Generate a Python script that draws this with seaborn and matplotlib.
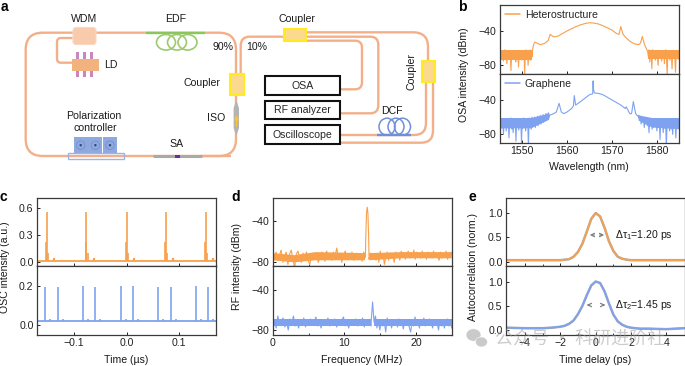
import numpy as np
import pandas as pd
import matplotlib
matplotlib.use("Agg")
import matplotlib.pyplot as plt
from matplotlib.patches import Rectangle, FancyBboxPatch, Ellipse, Circle, PathPatch, Polygon
from matplotlib.path import Path
import seaborn as sns

W, H = 685, 366
ORANGE, BLUE, GREY = "#F8A04C", "#7FA2F0", "#A8A8A8"
FIBRE = "#F3B088"

# ---------------- data ----------------
b_top_left = [-66,-72,-63,-70,-64,-75,-66,-62,-72,-65,-78,-64,-69,-63,-73,-66,-86,-65,-70,-63,-71,-64,-68,-76,-63,-70,-65,-82,-63,-72,-66,-64,-74,-65,-70,-63,-90,-66,-62,-72,-64,-80,-63,-68,-62,-74,-63,-70]
b_top_right = [-64,-70,-62,-76,-63,-68,-84,-62,-72,-65,-63,-74,-66,-64,-70,-80,-65,-63,-72,-66,-75,-64,-69,-63,-78,-66,-62,-71,-90,-65,-70,-63,-74,-66,-64,-84,-65,-72,-63,-70,-88,-64,-68,-63,-73,-66]
b_top_core_x = [1552.2,1552.5,1552.8,1553.2,1554,1555,1555.8,1556.2,1556.7,1557.2,1558,1559,1560,1561,1562,1563,1564,1565,1566,1567,1568,1569,1570,1571,1571.6,1572,1572.5,1573,1574,1575,1576,1576.4,1576.8,1577.3,1578]
b_top_core_y = [-64,-56,-53,-54,-56,-54.5,-51,-44,-46,-47,-46,-43,-40,-37.5,-35,-33,-31.5,-30.5,-31,-32,-34,-36.5,-39,-43,-44,-35,-44,-47,-52,-55,-56,-54,-46.5,-56,-64]
b_bot_left = [-66,-74,-62,-72,-64,-80,-63,-70,-65,-76,-62,-71,-68,-84,-63,-72,-61,-74,-66,-78,-63,-70,-62,-88,-64,-72,-62,-75,-66,-70,-62,-90,-64,-73,-61,-70,-65,-76,-62,-72,-64,-95,-61,-70,-63,-74,-60,-71,-63,-68,-60,-72,-62,-68,-59,-70,-61,-66,-58,-68,-60,-65,-57,-66,-58,-63,-56,-64,-56,-62,-55,-60]
b_bot_right = [-58,-64,-59,-68,-60,-66,-61,-72,-62,-68,-63,-70,-62,-78,-63,-70,-62,-74,-64,-72,-62,-70,-65,-76,-62,-72,-64,-86,-62,-70,-66,-78,-62,-73,-64,-95,-62,-72,-65,-76,-63,-74,-62,-80,-65,-72,-62,-84,-64,-70,-63,-74]
b_bot_core_x = [1556,1557,1557.6,1558.2,1558.7,1559.2,1560,1561,1561.4,1561.6,1561.9,1563,1564,1565,1565.7,1565.8,1565.9,1566.1,1567,1568,1569,1570,1571,1572,1573,1573.2,1574,1574.4,1574.8,1575.3,1576]
b_bot_core_y = [-58,-56,-54,-44,-54,-56,-54,-50,-47,-35,-46,-42,-38,-34,-33,-18,-28,-32,-32.5,-34,-37,-40,-43,-46,-50,-48,-56,-56,-42,-56,-60]
# solid part of the noise bands
b_top_band_x = [1545, 1552.2, None, 1578, 1585]
b_top_band_hi = [-62, -62, None, -62, -62]
b_top_band_lo = [-74, -74, None, -73, -73]
b_bot_band_x = [1545, 1552, 1556, None, 1576, 1579, 1585]
b_bot_band_hi = [-61, -61, -56, None, -58, -61, -61]
b_bot_band_lo = [-73, -73, -63, None, -64, -72, -74]

c_top_times = [-0.151, -0.076, 0.0, 0.075, 0.151]
c_top_height = [0.55, 0.55, 0.55, 0.55, 0.55]
c_top_shoulder = [0.22, 0.22, 0.22, 0.22, 0.22]
c_top_bump = [0.05, 0.05, 0.045, 0.05, 0.05]
c_bot_times = [-0.1545,-0.131,-0.083,-0.0595,-0.0107,0.012,0.060,0.0837,0.132,0.155]
c_bot_height = [0.195,0.195,0.2,0.195,0.2,0.2,0.195,0.195,0.2,0.195]
c_base_top = 0.02
c_base_bot = 0.02

d_top_noise = [-72,-76,-70,-78,-73,-68,-80,-74,-70,-82,-72,-68,-77,-85,-72,-69,-76,-80,-71,-75,-70,-78,-82,-74,-71,-77,-72,-80,-76,-70,-74,-79,-69,-75,-72,-78,-70,-74,-66,-76,-71,-80,-73,-69,-77,-72,-75,-70,-78,-74,-71,-76,-72,-79,-70,-75,-77,-71,-74,
               -73,-76,-78,-71,-80,-69,-76,-72,-82,-74,-70,-78,-71,-76,-73,-80,-70,-75,-72,-78,-69,-74,-71,-77,-72,-69,-76,-71,-75,-68,-77,-70,-74,-72,-76,-69,-75,-71,-77,-70,-74,-72,-76,-69,-75,-71,-74,-78,-70,-76,-72,-74,-69,-77,-71,-75,-70]
d_bot_noise = [-74,-70,-78,-66,-75,-71,-68,-77,-72,-80,-69,-74,-66,-76,-72,-78,-70,-74,-68,-77,-71,-75,-69,-74,-72,-67,-76,-71,-78,-70,-75,-72,-68,-76,-71,-74,-69,-77,-72,-75,-70,-67,-76,-72,-78,-70,-74,-71,-69,-76,-72,-75,-68,-77,-71,
               -73,-70,-76,-72,-66,-78,-71,-80,-70,-76,-72,-82,-68,-75,-72,-78,-70,-74,-71,-77,-69,-75,-72,-79,-70,-74,-72,-77,-82,-70,-76,-67,-75,-72,-78,-70,-74,-68,-76,-71,-75,-69,-73,-78,-70,-75,-72,-80,-70,-76,-71,-78,-72,-69,-76,-72,-78]
d_top_peak_x = [12.95, 13.0, 13.1, 13.2, 13.3, 13.4, 13.45]
d_top_peak_y = [-74, -55, -32, -26, -32, -55, -74]
d_bot_peak_x = [13.75, 13.85, 13.95, 14.05, 14.15]
d_bot_peak_y = [-72, -62, -52, -62, -72]
d_top_band_x = [0, 3, 6, 12.9, None, 13.5, 18, 25]
d_top_band_hi = [-71, -73, -70, -71, None, -71, -70, -70]
d_top_band_lo = [-78, -80, -78, -78, None, -78, -76, -76]
d_bot_band_x = [0, 13.7, None, 14.2, 25]
d_bot_band_hi = [-69, -69, None, -69, -69]
d_bot_band_lo = [-76, -76, None, -76, -76]

e_t = [-5,-4,-3,-2.5,-2,-1.75,-1.5,-1.25,-1,-0.75,-0.5,-0.25,0,0.25,0.5,0.75,1,1.25,1.5,1.75,2,2.5,3,4,5]
e_top = [0.03,0.03,0.03,0.03,0.03,0.04,0.05,0.10,0.20,0.37,0.62,0.88,1.0,0.93,0.70,0.42,0.22,0.10,0.06,0.04,0.03,0.03,0.03,0.03,0.03]
e_bot = [0.05,0.04,0.04,0.05,0.07,0.09,0.13,0.20,0.33,0.50,0.72,0.92,1.0,0.97,0.80,0.55,0.32,0.18,0.11,0.07,0.05,0.03,0.03,0.02,0.04]

# ---------------- style ----------------
sns.set_theme(style="ticks")
plt.rcParams.update({
    "font.family": ["Liberation Sans", "Noto Sans CJK SC", "DejaVu Sans"],
    "font.size": 7.6, "axes.linewidth": 0.9, "axes.edgecolor": "#3a3a3a",
    "xtick.labelsize": 7.6, "ytick.labelsize": 7.6,
    "xtick.color": "#222222", "ytick.color": "#222222",
    "mathtext.fontset": "custom", "mathtext.rm": "Liberation Sans",
    "mathtext.it": "Liberation Sans", "mathtext.default": "rm",
})
fig = plt.figure(figsize=(W / 100, H / 100), dpi=100)

def axpx(x0, y0, x1, y1, xlim, ylim):
    ax = fig.add_axes([x0 / W, 1 - y1 / H, (x1 - x0) / W, (y1 - y0) / H])
    ax.set_xlim(*xlim); ax.set_ylim(*ylim)
    ax.tick_params(length=2, width=0.7, direction="in", pad=2.5)
    ax.set_xlabel(""); ax.set_ylabel("")
    return ax

def trace(ax, x, y, color, lw=0.7, label=None, zorder=2):
    df = pd.DataFrame({"x": x, "y": y})
    sns.lineplot(data=df, x="x", y="y", ax=ax, color=color, lw=lw, estimator=None,
                 sort=False, errorbar=None, label=label, zorder=zorder)
    ax.set_xlabel(""); ax.set_ylabel("")

def band(ax, x, hi, lo, color):
    x, hi, lo = [np.array(v, dtype=float) for v in (x, hi, lo)]
    ax.fill_between(x, lo, hi, color=color, lw=0, zorder=2)

# panel b
b1 = axpx(500, 5, 679, 74, (1545, 1585), (-90, -10))
b2 = axpx(500, 74, 679, 143, (1545, 1585), (-90, -10))
band(b1, b_top_band_x, b_top_band_hi, b_top_band_lo, ORANGE)
band(b2, b_bot_band_x, b_bot_band_hi, b_bot_band_lo, BLUE)
trace(b1, list(np.linspace(1545, 1552.2, len(b_top_left))) + b_top_core_x + list(np.linspace(1578, 1585, len(b_top_right))),
      b_top_left + b_top_core_y + b_top_right, ORANGE, lw=0.8, label="Heterostructure")
trace(b2, list(np.linspace(1545, 1556, len(b_bot_left))) + b_bot_core_x + list(np.linspace(1576, 1585, len(b_bot_right))),
      b_bot_left + b_bot_core_y + b_bot_right, BLUE, lw=0.8, label="Graphene")
for ax in (b1, b2):
    ax.set_yticks([-40, -80]); ax.set_yticklabels(["\u221240", "\u221280"])
    ax.set_xticks([1550, 1560, 1570, 1580])
    ax.legend(loc="upper left", frameon=False, fontsize=7.6, handlelength=1.4, handletextpad=0.5,
              borderaxespad=0.1, borderpad=0.35)
    for l in ax.get_legend().get_lines():
        l.set_linewidth(1.1)
b1.tick_params(labelbottom=False)

# panel c
c1 = axpx(37, 198, 216, 266, (-0.17, 0.17), (-0.04, 0.706))
c2 = axpx(37, 266, 216, 335, (-0.17, 0.17), (-0.052, 0.305))
trace(c1, [-0.17, 0.17], [c_base_top, c_base_top], ORANGE, lw=1.3)
trace(c2, [-0.17, 0.17], [c_base_bot, c_base_bot], BLUE, lw=1.3)
c1.vlines(c_top_times, c_base_top, c_top_height, color=ORANGE, lw=1.2)
c1.vlines(np.array(c_top_times) - 0.0015, c_base_top, c_top_shoulder, color=ORANGE, lw=1.2)
c1.vlines(np.array(c_top_times) + 0.002, c_base_top, np.array(c_top_shoulder) * 0.45, color=ORANGE, lw=1.2)
c1.vlines(np.array(c_top_times) + 0.014, c_base_top, c_top_bump, color=ORANGE, lw=1.6)
c2.vlines(c_bot_times, c_base_bot, c_bot_height, color=BLUE, lw=1.2)
c2.vlines(np.array(c_bot_times) + 0.01, c_base_bot, 0.032, color=BLUE, lw=1.2)
c1.set_yticks([0, 0.3, 0.6]); c1.set_yticklabels(["0.0", "0.3", "0.6"])
c2.set_yticks([0, 0.2]); c2.set_yticklabels(["0.0", "0.2"])
for ax in (c1, c2):
    ax.set_xticks([-0.1, 0, 0.1])
c2.set_xticklabels(["\u22120.1", "0.0", "0.1"])
c1.tick_params(labelbottom=False)

# panel d
d1 = axpx(272.7, 198, 451.7, 266, (0, 25), (-83.6, -17))
d2 = axpx(272.7, 266, 451.7, 335, (0, 25), (-85, -16))
band(d1, d_top_band_x, d_top_band_hi, d_top_band_lo, ORANGE)
band(d2, d_bot_band_x, d_bot_band_hi, d_bot_band_lo, BLUE)
n1, n2 = len(d_top_noise) - 56, len(d_bot_noise) - 58
trace(d1, list(np.linspace(0, 12.95, 56)) + d_top_peak_x + list(np.linspace(13.45, 25, n1)),
      d_top_noise[:56] + d_top_peak_y + d_top_noise[56:], ORANGE, lw=0.8)
trace(d2, list(np.linspace(0, 13.75, 58)) + d_bot_peak_x + list(np.linspace(14.15, 25, n2)),
      d_bot_noise[:58] + d_bot_peak_y + d_bot_noise[58:], BLUE, lw=0.8)
for ax in (d1, d2):
    ax.set_yticks([-40, -80]); ax.set_yticklabels(["\u221240", "\u221280"])
    ax.set_xticks([0, 10, 20]); ax.set_xticks([5, 15, 25], minor=True)
    ax.tick_params(which="minor", length=1.2, width=0.6, direction="in")
d1.tick_params(labelbottom=False)

# panel e
e1 = axpx(506, 198, 685, 266, (-5.07, 5.05), (-0.09, 1.31))
e2 = axpx(506, 266, 685, 335, (-5.07, 5.05), (-0.1, 1.32))
trace(e1, e_t, e_top, GREY, lw=1.8, zorder=1); trace(e1, e_t, e_top, ORANGE, lw=1.2)
trace(e2, e_t, e_bot, GREY, lw=1.8, zorder=1); trace(e2, e_t, e_bot, BLUE, lw=1.3)
for ax in (e1, e2):
    ax.set_yticks([0, 0.5, 1]); ax.set_yticklabels(["0.0", "0.5", "1.0"])
    ax.set_xticks([-4, -2, 0, 2, 4]); ax.set_xticks([-3, -1, 1, 3], minor=True)
    ax.tick_params(which="minor", length=1.2, width=0.6, direction="in")
e2.set_xticklabels(["\u22124", "\u22122", "0", "2", "4"])
e1.tick_params(labelbottom=False)

# ---------------- overlay in pixel coordinates: schematic and text ----------------
px = fig.add_axes([0, 0, 1, 1], zorder=5)
px.set_xlim(0, W); px.set_ylim(H, 0); px.axis("off"); px.patch.set_alpha(0)

def fibre(points, r=8, color=FIBRE, lw=1.7, z=2):
    verts, codes = [points[0]], [Path.MOVETO]
    for i in range(1, len(points) - 1):
        p0, p, p1 = map(np.array, (points[i - 1], points[i], points[i + 1]))
        a = p - (p - p0) / max(np.linalg.norm(p - p0), 1e-6) * min(r, np.linalg.norm(p - p0) / 2)
        b = p + (p1 - p) / max(np.linalg.norm(p1 - p), 1e-6) * min(r, np.linalg.norm(p1 - p) / 2)
        verts += [tuple(a), tuple(p), tuple(b)]; codes += [Path.LINETO, Path.CURVE3, Path.CURVE3]
    verts.append(points[-1]); codes.append(Path.LINETO)
    px.add_patch(PathPatch(Path(verts, codes), fill=False, ec=color, lw=lw, zorder=z, capstyle="butt"))

fibre([(231, 156), (25.7, 156), (25.7, 32.7), (236, 32.7), (236, 74)], r=17)
fibre([(236, 95), (236, 156), (200, 156)], r=17)
fibre([(72.7, 38), (57, 38), (57, 62.7), (72, 62.7)], r=4)
fibre([(240.7, 74), (240.7, 36.7), (284, 36.7)], r=9)
fibre([(306, 32.3), (428, 32.3), (428, 61.5)], r=15)
fibre([(306, 36.7), (378.3, 36.7), (378.3, 113.3), (340, 113.3)], r=8)
fibre([(306, 40.7), (362, 40.7), (362, 89.3), (340, 89.3)], r=7)
fibre([(426, 82), (426, 135), (340, 135)], r=12)
fibre([(433, 82), (433, 142.7), (340, 142.7)], r=12)

def rect(x0, y0, x1, y1, fc="none", ec="none", lw=1.0, z=3):
    px.add_patch(Rectangle((x0, y0), x1 - x0, y1 - y0, fc=fc, ec=ec, lw=lw, zorder=z))

for (x0, y0, x1, y1) in [(230.3, 73.7, 244.3, 95.3), (283.7, 29.3, 306.3, 41), (422, 61.3, 435.3, 82.3)]:
    rect(x0, y0, x1, y1, fc="#FBD98F", ec="#FFEB1E", lw=1.5)
for (y0, y1, t) in [(75.7, 95, "OSA"), (100.7, 119.3, "RF analyzer"), (125.3, 144.3, "Oscilloscope")]:
    rect(264.7, y0, 340, y1, fc="white", ec="#111111", lw=1.5)
    px.text(302.5, (y0 + y1) / 2 + 0.3, t, ha="center", va="center", fontsize=7.6, zorder=6)

# WDM, LD
px.add_patch(FancyBboxPatch((74, 28.5), 21, 15, boxstyle="round,pad=1,rounding_size=3", fc="#F8CBAD", ec="#F8D8C0", lw=0.8, zorder=3))
for x in (78, 85, 92):
    rect(x - 1.5, 51.7, x + 1.5, 76.7, fc="#CB86BC")
rect(71.7, 59.3, 99, 70.7, fc="#F2B27E", z=4)
# EDF
fibre([(146, 32.7), (205, 32.7)], color="#8CC65A", lw=1.7, z=3)
for x in (166, 177, 187.5):
    px.add_patch(Ellipse((x, 42.3), 19, 15.5, fc="none", ec="#9CCB6C", lw=1.2, zorder=3))
# DCF
fibre([(377, 135), (410.7, 135)], color="#6F90D8", lw=1.7, z=3)
for x in (387, 396, 402.5):
    px.add_patch(Ellipse((x, 126.7), 16, 17, fc="none", ec="#6F90D8", lw=1.1, zorder=3))
# ISO
px.add_patch(Polygon([(236.3, 100), (239, 108), (239, 128), (236.3, 136), (233.6, 128), (233.6, 108)], fc="#B4B4B4", ec="none", zorder=3))
px.annotate("", xy=(236.6, 112), xytext=(236.6, 129), arrowprops=dict(arrowstyle="-|>", color="#F5C242", lw=1.1, mutation_scale=6), zorder=4)
# polarisation controller
for x0 in (73.7, 88.4, 103):
    rect(x0, 137.3, x0 + 14, 153, fc="#8FA9DF")
    px.add_patch(Ellipse((x0 + 7, 145.2), 8.5, 8.5, fc="none", ec="#6F8FD8", lw=0.6, zorder=4))
    px.add_patch(Circle((x0 + 7, 145.2), 1.2, fc="#30466E", ec="none", zorder=4))
rect(68, 152.7, 124.3, 159.3, ec="#9DB4E8", lw=1.0)
# SA
fibre([(153, 156), (202, 156)], color="#A9A9A9", lw=2.2, z=3)
rect(175, 154.5, 180.3, 157.5, fc="#6B2CA3", z=4)

labels = [(84, 18.7, "WDM", 0), (176, 18.7, "EDF", 0), (110.7, 65, "LD", 0), (222.7, 47.5, "90%", 0),
          (257, 47.5, "10%", 0), (202, 83, "Coupler", 0), (215.7, 118, "ISO", 0),
          (94, 115.7, "Polarization", 0), (95, 127.7, "controller", 0), (177, 144, "SA", 0),
          (297, 18.7, "Coupler", 0), (411.5, 71.5, "Coupler", 90), (392, 111.5, "DCF", 0),
          (589, 167, "Wavelength (nm)", 0), (126, 360, "Time (\u00b5s)", 0), (362, 360, "Frequency (MHz)", 0),
          (595, 360, "Time delay (ps)", 0), (464, 75, "OSA intensity (dBm)", 90),
          (5, 267, "OSC intensity (a.u.)", 90), (237, 266, "RF intensity (dBm)", 90),
          (473, 267, "Autocorrelation (norm.)", 90)]
for x, y, t, rot in labels:
    px.text(x, y, t, ha="center", va="center", rotation=rot, fontsize=7.6, color="#1a1a1a", zorder=6)
for x, y, t in [(4, 7, "a"), (462, 7, "b"), (3.5, 197, "c"), (236, 197, "d"), (472, 197, "e")]:
    px.text(x, y, t, ha="center", va="center", fontsize=10, fontweight="bold", color="black", zorder=6)

# e annotations
for y, x0, x1, t, tx in [(235, 587, 607, r"$\Delta\tau_1$=1.20 ps", 615.5), (305, 584, 608, r"$\Delta\tau_2$=1.45 ps", 615.5)]:
    for a, b in [((x0 + 10 if y == 235 else x0 + 8), x0), ((x1 - 10 if y == 235 else x1 - 8), x1)]:
        px.annotate("", xy=(b, y), xytext=(a, y), arrowprops=dict(arrowstyle="->", color="#7f7f7f", lw=0.9, mutation_scale=6), zorder=6)
    px.text(tx, y, t, ha="left", va="center", fontsize=7.6, color="#1a1a1a", zorder=6)

# watermark present in the reference
for (x, y, w, h) in [(473.5, 335, 15, 12.5), (481.5, 342, 12, 10)]:
    px.add_patch(Ellipse((x, y), w, h, fc="#b9b9b9", ec="white", lw=0.6, alpha=0.75, zorder=7))
px.text(495, 339.5, "\u516c\u4f17\u53f7 \u00b7 \u79d1\u7814\u8fdb\u9636\u793e", ha="left", va="center", fontsize=13,
        color="#9a9a9a", alpha=0.5, zorder=7, family=["Noto Sans CJK SC", "DejaVu Sans"])

fig.savefig("out.png", dpi=100)
